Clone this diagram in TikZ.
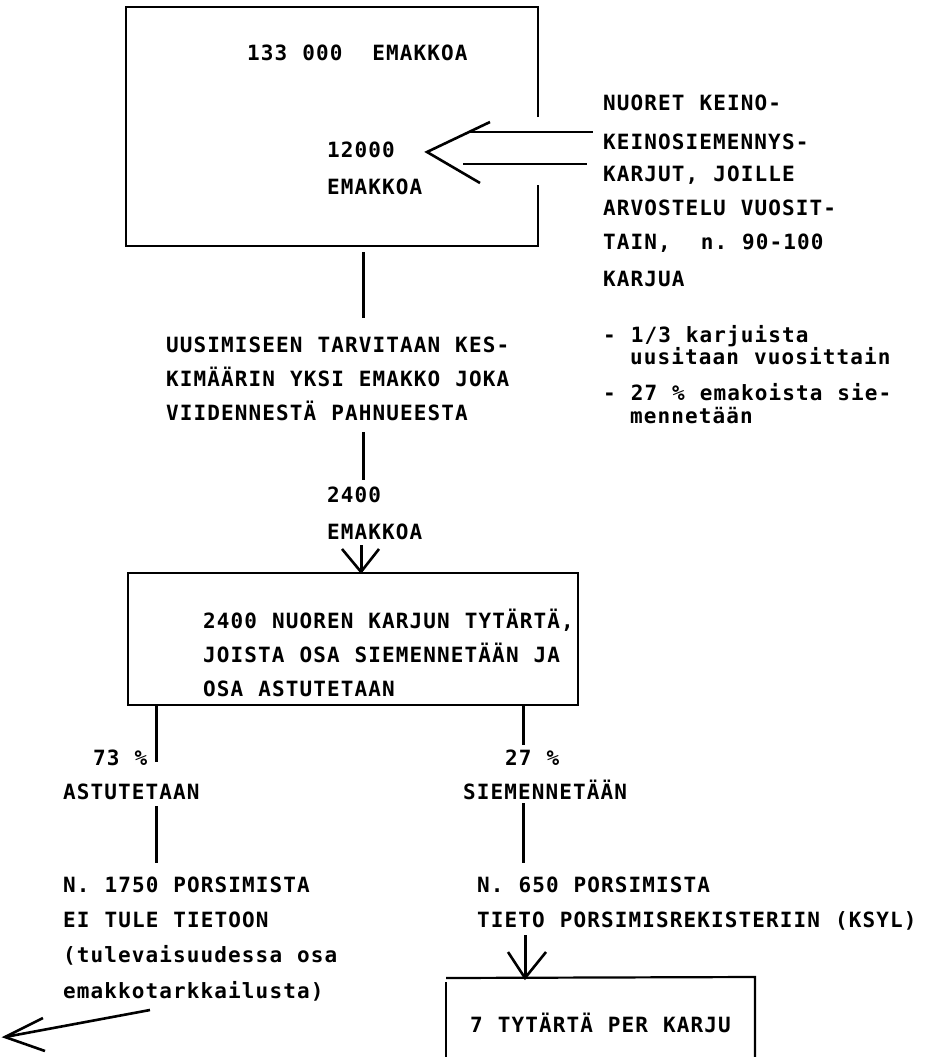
\documentclass[tikz,border=0pt]{standalone}
\usepackage{fontspec}
\setmonofont{DejaVu Sans Mono}[LetterSpace=5.3,WordSpace=1.088]
\newcommand\tw{\ttfamily\bfseries\fontsize{21}{34}\selectfont}
\begin{document}
\begin{tikzpicture}[x=1pt,y=-1pt,
  txt/.style={inner sep=0pt,anchor=base west,font=\tw},
  boxl/.style={line width=2.2pt},
  conn/.style={line width=3pt},
  head/.style={line width=2.6pt,line join=miter}]
\useasboundingbox (0,0) rectangle (927,1057);
% ---------- top box
\coordinate (b1ne) at (538,7);
\coordinate (b1nw) at (126,7);
\coordinate (b1sw) at (126,246);
\coordinate (b1se) at (538,246);
\draw[boxl] (538,117) -- (b1ne) -- (b1nw) -- (b1sw) -- (b1se) -- (538,185);
\node[txt] (n133) at (247,60) {133 000\ \ EMAKKOA};
\node[txt] (n12a) at (327,157) {12000};
\node[txt] (n12b) at (327,194) {EMAKKOA};
% incoming double arrow
\coordinate (a1tip) at (427,152);
\coordinate (a1u) at (490,122);
\coordinate (a1l) at (480,183);
\draw[head] (a1u) -- (a1tip) -- (a1l);
\coordinate (s1a) at (468,132); \coordinate (s1b) at (593,132);
\coordinate (s2a) at (463,164); \coordinate (s2b) at (587,164);
\draw[line width=2.2pt] (s1a) -- (s1b);
\draw[line width=2.2pt] (s2a) -- (s2b);
\node[txt] (r1) at (603,110) {NUORET KEINO-};
\node[txt] (r2) at (603,149) {KEINOSIEMENNYS-};
\node[txt] (r3) at (603,181) {KARJUT, JOILLE};
\node[txt] (r4) at (603,215) {ARVOSTELU VUOSIT-};
\node[txt] (r5) at (603,249) {TAIN,\ \ n. 90-100};
\node[txt] (r6) at (603,286) {KARJUA};
% notes
\node[txt] (m1) at (603,342) {- 1/3 karjuista};
\node[txt] (m2) at (630,364) {uusitaan vuosittain};
\node[txt] (m3) at (603,400) {- 27 \% emakoista sie-};
\node[txt] (m4) at (630,423) {mennetään};
% ---------- middle
\coordinate (v1a) at (363,252); \coordinate (v1b) at (363,318);
\draw[conn] (v1a) -- (v1b);
\node[txt] (u1) at (166,352) {UUSIMISEEN TARVITAAN KES-};
\node[txt] (u2) at (166,386) {KIMÄÄRIN YKSI EMAKKO JOKA};
\node[txt] (u3) at (166,420) {VIIDENNESTÄ PAHNUEESTA};
\coordinate (v2a) at (363,432); \coordinate (v2b) at (363,480);
\draw[conn] (v2a) -- (v2b);
\node[txt] (e1) at (327,502) {2400};
\node[txt] (e2) at (327,539) {EMAKKOA};
% box 2
\node[draw,boxl,minimum width=450pt,minimum height=132pt,inner sep=0pt] (b2) at (353,639) {};
\coordinate (a2top) at (361,545);
\draw[conn] (a2top) -- (b2.north -| a2top);
\draw[head] (342,549) -- (b2.north -| a2top) -- (379,549);
\node[txt] (t1) at (203,628) {2400 NUOREN KARJUN TYTÄRTÄ,};
\node[txt] (t2) at (203,662) {JOISTA OSA SIEMENNETÄÄN JA};
\node[txt] (t3) at (203,696) {OSA ASTUTETAAN};
% ---------- left branch
\coordinate (lx) at (156,762);
\draw[conn] (b2.south -| lx) -- (lx);
\node[txt] (p73) at (93,765) {73 \%};
\node[txt] (ast) at (63,799) {ASTUTETAAN};
\coordinate (l2a) at (156,806); \coordinate (l2b) at (156,863);
\draw[conn] (l2a) -- (l2b);
\node[txt] (k1) at (63,892) {N. 1750 PORSIMISTA};
\node[txt] (k2) at (63,927) {EI TULE TIETOON};
\node[txt] (k3) at (63,962) {(tulevaisuudessa osa};
\node[txt] (k4) at (63,998) {emakkotarkkailusta)};
\coordinate (a3tail) at (150,1010);
\coordinate (a3tip) at (5,1037);
\draw[head] (a3tail) -- (a3tip);
\draw[head] (43,1018) -- (a3tip) -- (45,1051);
% ---------- right branch
\coordinate (rx) at (523,745);
\draw[conn] (b2.south -| rx) -- (rx);
\node[txt] (p27) at (505,765) {27 \%};
\node[txt] (sie) at (463,799) {SIEMENNETÄÄN};
\coordinate (r2a) at (523,803); \coordinate (r2b) at (523,863);
\draw[conn] (r2a) -- (r2b);
\node[txt] (q1) at (477,892) {N. 650 PORSIMISTA};
\node[txt] (q2) at (477,927) {TIETO PORSIMISREKISTERIIN (KSYL)};
% box 3
\coordinate (b3nw) at (446,978);
\coordinate (b3ne) at (755,977);
\draw[boxl] (b3nw) -- (b3ne) -- (755,1057);
\draw[boxl] (446,982) -- (446,1057);
\coordinate (a4top) at (525,935);
\draw[conn] (a4top) -- (525,978);
\draw[head] (508,952) -- (525,978) -- (546,952);
\node[txt] (b3t) at (470,1032) {7 TYTÄRTÄ PER KARJU};
\end{tikzpicture}
\end{document}
